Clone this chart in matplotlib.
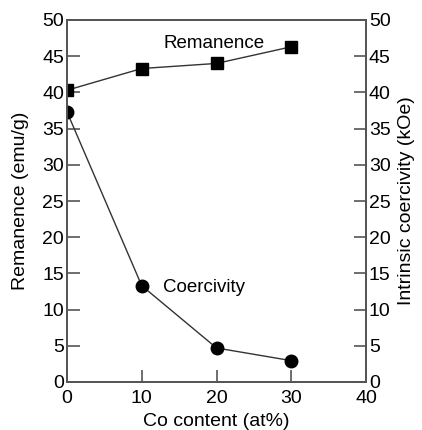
import matplotlib.pyplot as plt
import numpy as np

plt.rcParams['font.family'] = ['Liberation Sans', 'DejaVu Sans']

co = [0, 10, 20, 30]
remanence = [40.3, 43.3, 44.0, 46.3]
coercivity = [37.3, 13.3, 4.7, 2.95]
ticks_y = np.arange(0, 51, 5)
ticks_x = [0, 10, 20, 30, 40]

fig = plt.figure(figsize=(4.22, 4.30), dpi=100)
ax = fig.add_axes([67 / 422, 48 / 430, 299 / 422, 362 / 430])
ax2 = ax.twinx()

ax.plot(co, remanence, color='#333333', lw=1, marker='s', ms=8, mfc='black', mec='black')
ax2.plot(co, coercivity, color='#333333', lw=1, marker='o', ms=9, mfc='black', mec='black')

ax.set_xlim(0, 40)
ax.set_ylim(0, 50)
ax2.set_ylim(0, 50)
ax.set_xticks(ticks_x)
ax.set_yticks(ticks_y)
ax2.set_yticks(ticks_y)

for a in (ax, ax2):
    for s in a.spines.values():
        s.set_color('#555555')
        s.set_linewidth(1.3)
    a.tick_params(direction='in', length=9, width=1.2, color='#555555',
                  labelsize=14, pad=2)
ax.tick_params(axis='x', pad=6)

ax.set_xlabel('Co content (at%)', fontsize=14)
ax.set_ylabel('Remanence (emu/g)', fontsize=14)
ax2.set_ylabel('Intrinsic coercivity (kOe)', fontsize=14)
ax.xaxis.set_label_coords(0.5, -0.11)
ax.yaxis.set_label_coords(-0.157, 0.5)
ax2.yaxis.set_label_coords(1.137, 0.5)
ax.xaxis.label.set_va('center')
ax.yaxis.label.set_va('center')
ax2.yaxis.label.set_va('center')

ax.text(19.7, 46.8, 'Remanence', fontsize=13.5, ha='center', va='center')
ax.text(12.8, 13.1, 'Coercivity', fontsize=13.5, va='center', ha='left')

fig.savefig('out.png', dpi=100)
